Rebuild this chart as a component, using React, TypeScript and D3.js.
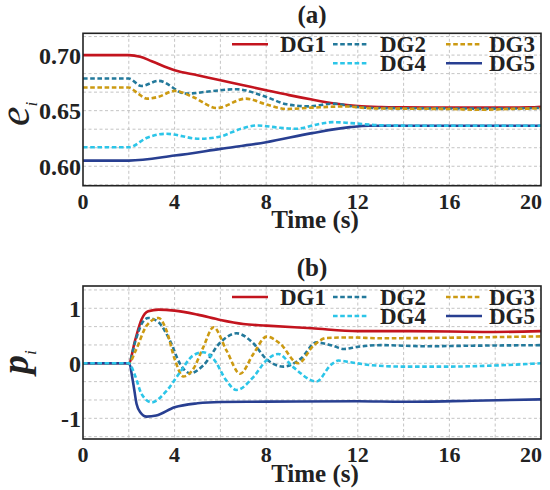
import React from "react";
import * as d3 from "d3";

type P = [number, number];

// ---------- data: panel (a) e_i ----------
const eDG1: P[] = [[0,0.700],[2,0.700],[2.5,0.6985],[3,0.6945],[4,0.6864],[5,0.6819],[6,0.6774],[7,0.6729],[8,0.6684],[9,0.6640],[10,0.6600],[11,0.6565],[12,0.6542],[13,0.6533],[14,0.6530],[16,0.6528],[18,0.6527],[19.5,0.6530],[20,0.6535]];
const eDG2: P[] = [[0,0.6789],[2,0.6789],[2.55,0.6722],[3.3,0.6768],[4.5,0.6653],[5.6,0.6675],[6.7,0.6693],[8,0.6623],[8.9,0.6557],[9.9,0.6539],[10.9,0.6563],[11.7,0.6540],[12.5,0.6525],[14,0.6522],[16,0.6520],[18,0.6518],[20,0.6525]];
const eDG3: P[] = [[0,0.6708],[2,0.6708],[2.4,0.6655],[2.8,0.6608],[3.3,0.6625],[4.0,0.6678],[4.8,0.6623],[5.85,0.6524],[7.1,0.6608],[8,0.6557],[8.9,0.6515],[10,0.6527],[11.5,0.6538],[12.5,0.6522],[14,0.6518],[16,0.6515],[17.3,0.6508],[18.5,0.6515],[20,0.6520]];
const eDG4: P[] = [[0,0.6171],[2,0.6171],[2.8,0.6256],[3.6,0.6292],[5.1,0.6247],[6,0.6268],[6.9,0.6337],[7.6,0.6367],[8.6,0.6346],[9.3,0.6337],[10.35,0.6382],[10.9,0.6397],[11.7,0.6388],[13,0.6368],[14,0.6365],[20,0.6364]];
const eDG5: P[] = [[0,0.6051],[2,0.6051],[4,0.6096],[6,0.6156],[8,0.6216],[10,0.6298],[11.66,0.6352],[12.5,0.6364],[20,0.6364]];

// ---------- data: panel (b) p_i ----------
const pDG1: P[] = [[0,0],[2,0],[2.27,0.41],[2.56,0.80],[2.85,0.945],[3.3,0.976],[4,0.958],[5,0.885],[6,0.788],[7,0.715],[8,0.685],[10,0.636],[12,0.585],[14,0.585],[16,0.578],[18,0.570],[20,0.585]];
const pDG2: P[] = [[0,0],[2,0],[2.27,0.38],[2.56,0.715],[2.85,0.824],[3.3,0.745],[3.8,0.41],[4.24,-0.01],[4.67,-0.18],[5.25,-0.04],[6,0.38],[6.7,0.545],[7.4,0.38],[8,0.08],[8.75,-0.06],[9.5,0.08],[10.2,0.38],[10.9,0.32],[11.4,0.26],[12,0.30],[13,0.33],[15,0.31],[17,0.32],[20,0.33]];
const pDG3: P[] = [[0,0],[2,0],[2.3,0.23],[2.78,0.685],[3.3,0.824],[3.65,0.59],[4.0,0.08],[4.38,-0.24],[4.82,-0.10],[5.25,0.29],[5.7,0.655],[6.27,0.23],[6.86,-0.19],[7.44,0.17],[8.02,0.485],[8.6,0.36],[9.4,0.0],[10.06,0.32],[10.64,0.46],[11.66,0.47],[13,0.455],[16,0.465],[20,0.49]];
const pDG4: P[] = [[0,0],[2,0],[2.27,-0.22],[2.56,-0.56],[3.0,-0.71],[3.65,-0.50],[4.24,-0.16],[4.8,0.14],[5.25,0.20],[5.7,0.08],[6.27,-0.32],[6.7,-0.485],[7.44,-0.25],[8,0.05],[8.53,0.17],[9.18,-0.07],[10.2,-0.33],[10.8,-0.04],[11.15,0.05],[11.66,0.02],[12.5,-0.03],[14,-0.06],[16,-0.06],[18,-0.04],[20,0.0]];
const pDG5: P[] = [[0,0],[2,0],[2.2,-0.38],[2.34,-0.74],[2.5,-0.89],[2.78,-0.97],[3.2,-0.95],[4,-0.80],[5,-0.727],[6,-0.703],[8,-0.697],[12,-0.69],[14,-0.70],[17,-0.68],[20,-0.655]];

// ---------- ticks ----------
const xTicks = [0, 4, 8, 12, 16, 20];
const xGrid = [2, 4, 6, 8, 10, 12, 14, 16, 18];
const eTicks = [0.60, 0.65, 0.70];
const eTickLabels = ["0.60", "0.65", "0.70"];
const pTicks = [-1, 0, 1];
const pTickLabels = ["-1", "0", "1"];

const names = ["DG1", "DG2", "DG3", "DG4", "DG5"];
const colors = ["#C3141E", "#23799B", "#CC9A12", "#2CC5E8", "#283F91"];
const dashed = [false, true, true, true, false];

const FONT = "'Liberation Serif', 'Times New Roman', serif";
const W = 550, H = 490;
const X0 = 83, X1 = 541;

interface PanelProps {
  series: P[][];
  top: number;
  bottom: number;
  domain: [number, number];
  ticks: number[];
  tickLabels: string[];
  gridStep: number;
  title: string;
  ylabel: string;
  ylabelSize: number;
  ylabelWeight: string;
  ylabelBaseX: number;
  ylabelStartY: number;
}

function Panel(props: PanelProps) {
  const { series, top, bottom, domain, ticks, tickLabels, gridStep, title, ylabel, ylabelSize, ylabelWeight, ylabelBaseX, ylabelStartY } = props;
  const x = d3.scaleLinear().domain([0, 20]).range([X0, X1]);
  const y = d3.scaleLinear().domain(domain).range([bottom, top]);
  const line = d3.line<P>().x(d => x(d[0])).y(d => y(d[1])).curve(d3.curveMonotoneX);
  const hGrid: number[] = [];
  const startG = Math.ceil(domain[0] / gridStep - 1e-6);
  for (let k = startG; k * gridStep < domain[1]; k++) hGrid.push(k * gridStep);
  const order = [0, 1, 2, 4, 3];
  const legendCols = [232, 333, 446];
  const legendTextX = [280, 380, 489];
  const legendItems = [
    { i: 0, col: 0, row: 0 }, { i: 1, col: 1, row: 0 }, { i: 2, col: 2, row: 0 },
    { i: 3, col: 1, row: 1 }, { i: 4, col: 2, row: 1 },
  ];
  const midX = (X0 + X1) / 2;
  return (
    <g>
      <rect x={X0} y={top} width={X1 - X0} height={bottom - top} fill="#fff" />
      {xGrid.map(g => (
        <line key={"vx" + g} x1={x(g)} x2={x(g)} y1={top} y2={bottom} stroke="#bdbdbd" strokeWidth={0.9} strokeDasharray="3,2.5" />
      ))}
      {hGrid.map((g, k) => (
        <line key={"hy" + k} x1={X0} x2={X1} y1={y(g)} y2={y(g)} stroke="#bdbdbd" strokeWidth={0.9} strokeDasharray="3,2.5" />
      ))}
      <defs>
        <clipPath id={`clip-${title}`}>
          <rect x={X0} y={top} width={X1 - X0} height={bottom - top} />
        </clipPath>
      </defs>
      <g clipPath={`url(#clip-${title})`}>
        {order.map(i => (
          <path key={names[i]} d={line(series[i]) || ""} fill="none" stroke={colors[i]} strokeWidth={2.6}
            strokeDasharray={dashed[i] ? "4.6,2.6" : undefined} strokeLinejoin="round" />
        ))}
      </g>
      <rect x={X0} y={top} width={X1 - X0} height={bottom - top} fill="none" stroke="#222" strokeWidth={1.6} />
      {legendItems.map(it => {
        const ly = top + 11 + it.row * 19;
        return (
          <g key={"lg" + it.i}>
            <line x1={legendCols[it.col]} x2={legendCols[it.col] + 36} y1={ly} y2={ly} stroke={colors[it.i]} strokeWidth={2.6}
              strokeDasharray={dashed[it.i] ? "4.6,2.6" : undefined} />
            <text x={legendTextX[it.col]} y={ly + 7.8} fontFamily={FONT} fontWeight="bold" fontSize={23} fill="#222">{names[it.i]}</text>
          </g>
        );
      })}
      {ticks.map((t, k) => (
        <text key={"yt" + k} x={81} y={y(t) + 8.5} textAnchor="end" fontFamily={FONT} fontWeight="bold" fontSize={24} fill="#222">{tickLabels[k]}</text>
      ))}
      {xTicks.map((t, k) => (
        <text key={"xt" + t} x={k === xTicks.length - 1 ? X1 + 1 : x(t)} y={bottom + 23} textAnchor={k === xTicks.length - 1 ? "end" : "middle"}
          fontFamily={FONT} fontWeight="bold" fontSize={22} fill="#222">{String(t)}</text>
      ))}
      <text x={midX + 3} y={bottom + 42.5} textAnchor="middle" fontFamily={FONT} fontWeight="bold" fontSize={25} fill="#222">Time (s)</text>
      <text x={midX} y={top - 10} textAnchor="middle" fontFamily={FONT} fontWeight="bold" fontSize={25} fill="#222">{`(${title})`}</text>
      <text transform={`translate(${ylabelBaseX},${ylabelStartY}) rotate(-90)`} fontFamily={FONT} fontStyle="italic" fontWeight={ylabelWeight} fontSize={ylabelSize} fill="#222">
        {ylabel}
        <tspan fontSize={17} dy={8} fontWeight="normal">i</tspan>
      </text>
    </g>
  );
}

export default function App() {
  return (
    <svg width={W} height={H} viewBox={`0 0 ${W} ${H}`} style={{ position: "absolute", left: 0, top: 0, background: "#fff" }}>
      <rect width={W} height={H} fill="#fff" />
      <Panel series={[eDG1, eDG2, eDG3, eDG4, eDG5]} top={33.3} bottom={185.7} domain={[0.5825, 0.7196]}
        ticks={eTicks} tickLabels={eTickLabels} gridStep={0.05 / 3} title="a" ylabel="e" ylabelSize={44}
        ylabelWeight="normal" ylabelBaseX={29} ylabelStartY={126} />
      <Panel series={[pDG1, pDG2, pDG3, pDG4, pDG5]} top={286} bottom={439} domain={[-1.376, 1.405]}
        ticks={pTicks} tickLabels={pTickLabels} gridStep={1 / 3} title="b" ylabel="p" ylabelSize={38}
        ylabelWeight="bold" ylabelBaseX={28} ylabelStartY={374} />
    </svg>
  );
}
